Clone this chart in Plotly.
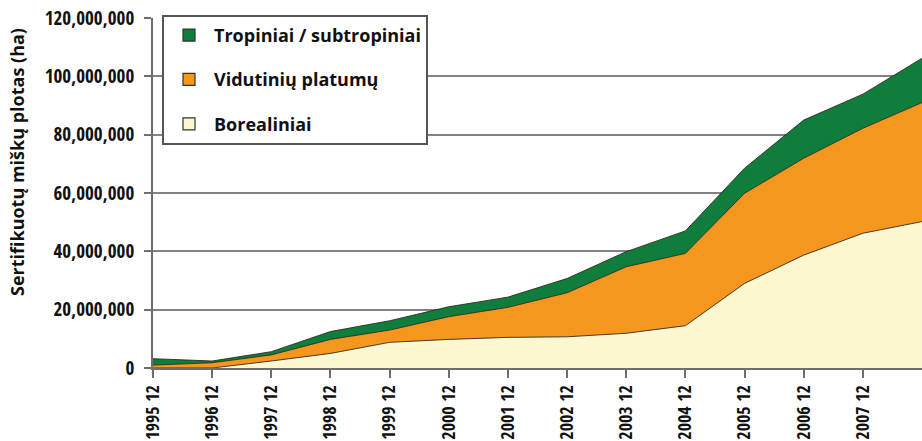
import plotly.graph_objects as go

categories = ["1995 12", "1996 12", "1997 12", "1998 12", "1999 12", "2000 12", "2001 12",
              "2002 12", "2003 12", "2004 12", "2005 12", "2006 12", "2007 12", "2008 12"]
x_tick_labels = categories[:13]

# Certified forest area by biome (ha)
boreal = [0, 0, 2_400_000, 5_000_000, 8_800_000, 9_800_000, 10_500_000, 10_700_000,
          11_900_000, 14_500_000, 29_000_000, 38_700_000, 46_200_000, 50_200_000]
temperate = [1_000_000, 1_800_000, 2_100_000, 4_800_000, 4_200_000, 7_800_000, 10_300_000,
             15_100_000, 22_800_000, 24_800_000, 30_900_000, 33_200_000, 36_000_000, 40_800_000]
tropical = [2_200_000, 600_000, 1_100_000, 2_700_000, 3_200_000, 3_400_000, 3_500_000,
            4_900_000, 5_200_000, 7_700_000, 8_600_000, 13_100_000, 11_700_000, 15_200_000]

series_names = ["Tropiniai / subtropiniai", "Vidutinių platumų", "Borealiniai"]
y_tick_vals = [0, 20_000_000, 40_000_000, 60_000_000, 80_000_000, 100_000_000, 120_000_000]
y_tick_labels = ["0", "20,000,000", "40,000,000", "60,000,000", "80,000,000", "100,000,000", "120,000,000"]
y_title = "Sertifikuotų miškų plotas (ha)"

GREEN = "#0f7d3b"
ORANGE = "#f5961f"
CREAM = "#fbf7d0"
EDGE = "rgba(45,35,25,0.85)"
FONT = "Open Sans"
NARROW = "Open Sans Condensed, Roboto Condensed, Open Sans"

fig = go.Figure()
for name, vals, col in [(series_names[2], boreal, CREAM),
                        (series_names[1], temperate, ORANGE),
                        (series_names[0], tropical, GREEN)]:
    fig.add_trace(go.Scatter(
        x=categories, y=vals, name=name, stackgroup="one", mode="lines",
        line=dict(color=EDGE, width=1), fillcolor=col, showlegend=False,
        hoverinfo="x+y+name"))

# legend entries as square swatches
for i, (name, col) in enumerate([(series_names[0], GREEN), (series_names[1], ORANGE), (series_names[2], CREAM)]):
    fig.add_trace(go.Scatter(
        x=[None], y=[None], mode="markers", name=name, legendgroup=f"g{i}",
        marker=dict(symbol="square", size=12, color=col, line=dict(color="#333", width=1.2)),
        showlegend=True))

# plot area spans x 153..922, y 18..368
fig.add_annotation(text=y_title, xref="paper", yref="paper",
                   x=-(153 - 17) / 769, y=(368 - 162) / 350, xanchor="center", yanchor="middle",
                   textangle=-90, showarrow=False,
                   font=dict(family=FONT, size=18, color="#111", weight="bold"))

fig.update_layout(
    width=922, height=441,
    margin=dict(l=153, r=0, t=18, b=73, pad=0, autoexpand=False),
    paper_bgcolor="white", plot_bgcolor="white",
    font=dict(family=FONT, size=16, color="#111", weight="bold"),
    showlegend=True,
    legend=dict(x=(162 - 153) / 769, y=1.009, xanchor="left", yanchor="top",
                bgcolor="white", bordercolor="#555", borderwidth=2,
                font=dict(family=FONT, size=18, color="#111", weight="bold"),
                tracegroupgap=18, itemwidth=40, traceorder="grouped"),
    xaxis=dict(type="category", range=[0, 13], tickmode="array", automargin=False,
               tickvals=x_tick_labels, ticktext=x_tick_labels, tickangle=-90,
               showgrid=False, showline=True, linecolor="#6e6e6e", linewidth=2,
               ticks="outside", ticklen=8, tickwidth=2, tickcolor="#6e6e6e",
               ticklabeloverflow="allow",
               tickfont=dict(family=NARROW, size=18, color="#111", weight="bold"),
               zeroline=False, fixedrange=True),
    yaxis=dict(range=[0, 120_000_000], tickmode="array", tickvals=y_tick_vals, automargin=False,
               ticktext=y_tick_labels, showgrid=True, gridcolor="#828282", gridwidth=2,
               showline=True, linecolor="#6e6e6e", linewidth=2,
               ticks="outside", ticklen=7, tickwidth=2, tickcolor="#6e6e6e",
               ticklabelstandoff=6, ticklabeloverflow="allow",
               tickfont=dict(family=NARROW, size=19, color="#111", weight="bold"),
               zeroline=False, fixedrange=True),
)

# remove the default page margin so the 922x441 figure fills the window exactly
fig.write_html("out.html", config={"displayModeBar": False},
               post_script="document.body.style.margin='0';document.body.style.overflow='hidden';"
                           "document.documentElement.style.overflow='hidden';")
